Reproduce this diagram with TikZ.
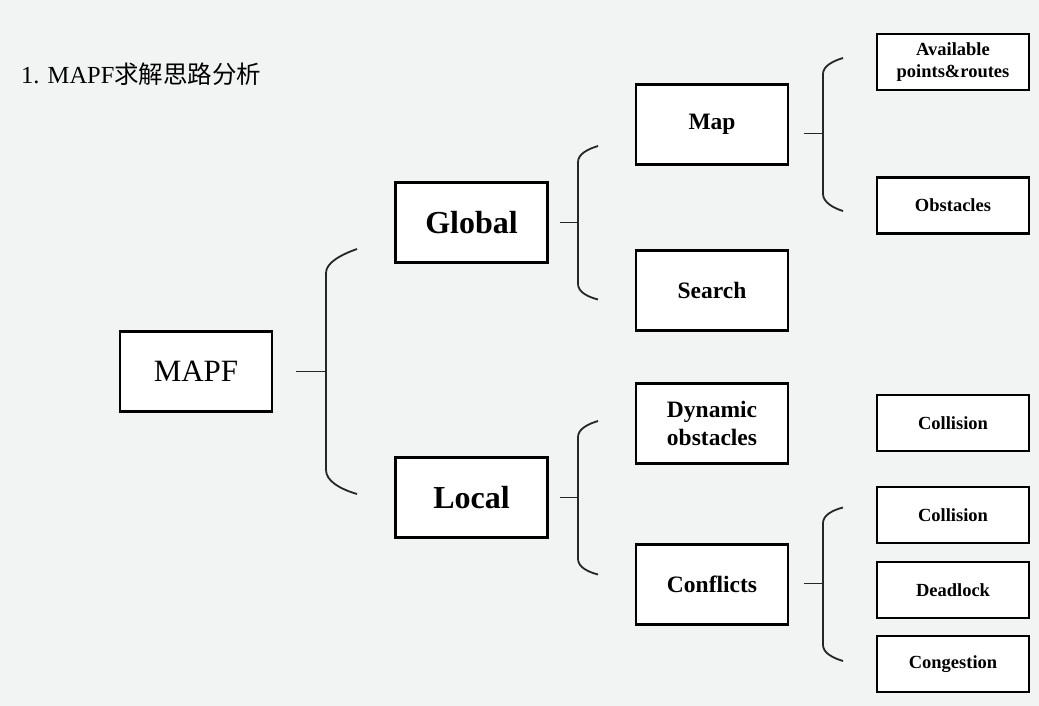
\documentclass[tikz,border=0pt]{standalone}
\usepackage{fontspec}
\setmainfont{Liberation Serif}
\newfontfamily\cjk{Noto Sans CJK SC}
\usetikzlibrary{calc}
\definecolor{bgc}{HTML}{F2F3F3}
\tikzset{
  box/.style={draw=black, line width=2.2pt, fill=white, inner sep=0pt, align=center,
              minimum width=152pt},
  bigbox/.style={box, minimum height=80pt},
  smallbox/.style={box, minimum height=56pt},
  brace/.style={line width=1.8pt, draw=black!85},
  lvl1/.style={font=\fontsize{32}{36}\selectfont\bfseries},
  lvl2/.style={font=\fontsize{23.5}{28}\selectfont\bfseries},
  lvl3/.style={font=\fontsize{18.5}{22}\selectfont\bfseries},
}
\begin{document}
\begin{tikzpicture}[x=1pt,y=-1pt]
\fill[bgc] (0,0) rectangle (1039,706);
\useasboundingbox (0,0) rectangle (1039,706);

\node[anchor=west, inner sep=0pt, font=\fontsize{24.5}{28}\selectfont] (title) at (21,74)
  {1. MAPF{\cjk 求解思路分析}};

\node[bigbox, font=\fontsize{31}{36}\selectfont] (mapf) at (196,371.5) {MAPF};
\node[bigbox, lvl1] (global) at (471.5,222.5) {Global};
\node[bigbox, lvl1] (local) at (471.5,497.5) {Local};
\node[bigbox, lvl2] (map) at (712,124.5) {Map};
\node[bigbox, lvl2] (search) at (712,290.5) {Search};
\node[bigbox, lvl2] (dyn) at (712,423.5) {Dynamic\\obstacles};
\node[bigbox, lvl2] (conf) at (712,584.5) {Conflicts};
\node[smallbox, lvl3] (avail) at (953,62) {Available\\points\&routes};
\node[smallbox, lvl3] (obst) at (953,205.5) {Obstacles};
\node[smallbox, lvl3] (coll1) at (953,423) {Collision};
\node[smallbox, lvl3] (coll2) at (953,515) {Collision};
\node[smallbox, lvl3] (dead) at (953,590) {Deadlock};
\node[smallbox, lvl3] (cong) at (953,664) {Congestion};

% bracket MAPF -> Global / Local
\coordinate (s1) at ($(mapf.east)+(23,0)$);
\draw[brace] (s1) -- ++(30,0);
\draw[brace] (357,249) .. controls (340,255) and (326,263) .. (326,273) -- (326,470)
  .. controls (326,481) and (340,489) .. (357,494);

% bracket Global -> Map / Search
\coordinate (s2) at ($(global.east)+(11,0)$);
\draw[brace] (s2) -- ++(19,0);
\draw[brace] (598,146) .. controls (588,149) and (578,154) .. (578,162) -- (578,284)
  .. controls (578,292) and (588,297) .. (598,299.5);

% bracket Local -> Dynamic / Conflicts
\coordinate (s3) at ($(local.east)+(11,0)$);
\draw[brace] (s3) -- ++(19,0);
\draw[brace] (598,421) .. controls (588,424) and (578,429) .. (578,437) -- (578,559)
  .. controls (578,567) and (588,572) .. (598,574.5);

% bracket Map -> Available / Obstacles
\coordinate (s4) at ($(map.east)+(15,9)$);
\draw[brace] (s4) -- ++(19,0);
\draw[brace] (843,58) .. controls (833,61) and (823,66) .. (823,74) -- (823,194)
  .. controls (823,202) and (833,208) .. (843,211);

% bracket Conflicts -> Collision / Deadlock / Congestion
\coordinate (s5) at ($(conf.east)+(15,-1)$);
\draw[brace] (s5) -- ++(19,0);
\draw[brace] (843,507.5) .. controls (833,510) and (823,515) .. (823,523) -- (823,645)
  .. controls (823,653) and (833,658) .. (843,661);
\end{tikzpicture}
\end{document}
